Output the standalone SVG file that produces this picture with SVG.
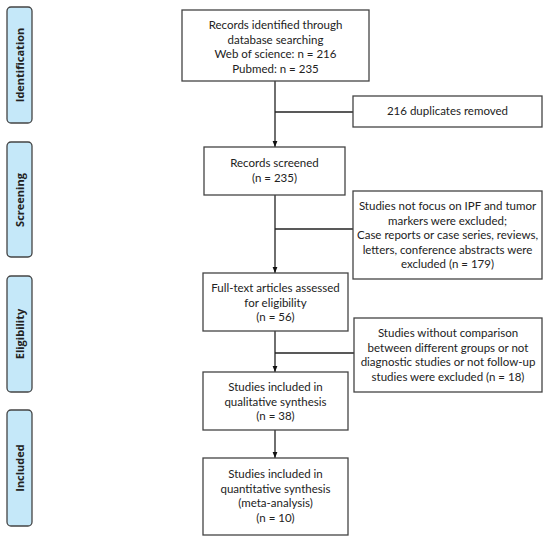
<svg xmlns="http://www.w3.org/2000/svg" width="550" height="545" viewBox="0 0 550 545">
<defs>
<marker id="ah" viewBox="0 0 10 10" refX="10" refY="5" markerWidth="6" markerHeight="6" orient="auto" markerUnits="userSpaceOnUse">
<path d="M0,1 L10,5 L0,9 Z" fill="#111"/>
</marker>
<style>
.box{fill:#fff;stroke:#444;stroke-width:1.3}
.tab{fill:#c5e8f9;stroke:#444;stroke-width:1.3}
.t{font-family:Lato,"Liberation Sans",sans-serif;font-size:11.5px;fill:#222;text-anchor:middle}
.tb{font-family:"Open Sans","Liberation Sans",sans-serif;font-size:11px;font-weight:bold;fill:#222;text-anchor:middle}
.c{fill:none;stroke:#222;stroke-width:1.3}
</style>
</defs>
<rect width="550" height="545" fill="#fff"/>
<g id="tab-identification"><rect class="tab" x="7" y="7" width="25" height="116" rx="4"/><text class="tb" transform="translate(24,65) rotate(-90)">Identification</text></g>
<g id="tab-screening"><rect class="tab" x="7" y="142" width="25" height="115" rx="4"/><text class="tb" transform="translate(24,200) rotate(-90)">Screening</text></g>
<g id="tab-eligibility"><rect class="tab" x="7" y="276" width="25" height="116" rx="4"/><text class="tb" transform="translate(24,334) rotate(-90)">Eligibility</text></g>
<g id="tab-included"><rect class="tab" x="7" y="410" width="25" height="116" rx="4"/><text class="tb" transform="translate(24,468) rotate(-90)">Included</text></g>
<g id="connectors">
<line class="c" x1="275" y1="81" x2="275" y2="147" marker-end="url(#ah)"/>
<line class="c" x1="275" y1="112" x2="353" y2="112"/>
<line class="c" x1="275" y1="195" x2="275" y2="273" marker-end="url(#ah)"/>
<line class="c" x1="275" y1="229" x2="353" y2="229"/>
<line class="c" x1="275" y1="331" x2="275" y2="372" marker-end="url(#ah)"/>
<line class="c" x1="275" y1="353" x2="354" y2="353"/>
<line class="c" x1="275" y1="430" x2="275" y2="458" marker-end="url(#ah)"/>
</g>
<g id="records-identified"><rect class="box" x="182" y="10" width="187" height="71"/>
<text class="t" x="275.500" y="29">Records identified through</text>
<text class="t" x="275.500" y="43.500">database searching</text>
<text class="t" x="275.500" y="58">Web of science: n = 216</text>
<text class="t" x="275.500" y="72.500">Pubmed: n = 235</text></g>
<g id="duplicates"><rect class="box" x="353" y="96" width="189" height="31"/>
<text class="t" x="447.500" y="115">216 duplicates removed</text></g>
<g id="records-screened"><rect class="box" x="204" y="147" width="141" height="48"/>
<text class="t" x="274.500" y="167">Records screened</text>
<text class="t" x="274.500" y="182">(n = 235)</text></g>
<g id="excluded-screening"><rect class="box" x="353" y="191" width="189" height="88"/>
<text class="t" x="447.500" y="210">Studies not focus on IPF and tumor</text>
<text class="t" x="447.500" y="224.500">markers were excluded;</text>
<text class="t" x="447.500" y="239">Case reports or case series, reviews,</text>
<text class="t" x="447.500" y="253.500">letters, conference abstracts were</text>
<text class="t" x="447.500" y="268">excluded (n = 179)</text></g>
<g id="full-text"><rect class="box" x="203" y="273" width="145" height="58"/>
<text class="t" x="275.500" y="292">Full-text articles assessed</text>
<text class="t" x="275.500" y="306.500">for eligibility</text>
<text class="t" x="275.500" y="321">(n = 56)</text></g>
<g id="excluded-eligibility"><rect class="box" x="354" y="318" width="188" height="74"/>
<text class="t" x="448" y="337">Studies without comparison</text>
<text class="t" x="448" y="351.500">between different groups or not</text>
<text class="t" x="448" y="366">diagnostic studies or not follow-up</text>
<text class="t" x="448" y="380.500">studies were excluded (n = 18)</text></g>
<g id="qualitative"><rect class="box" x="203" y="372" width="145" height="58"/>
<text class="t" x="275.500" y="391">Studies included in</text>
<text class="t" x="275.500" y="405.500">qualitative synthesis</text>
<text class="t" x="275.500" y="420">(n = 38)</text></g>
<g id="quantitative"><rect class="box" x="203" y="458" width="145" height="77"/>
<text class="t" x="275.500" y="478">Studies included in</text>
<text class="t" x="275.500" y="492.500">quantitative synthesis</text>
<text class="t" x="275.500" y="507">(meta-analysis)</text>
<text class="t" x="275.500" y="521.500">(n = 10)</text></g>
</svg>
